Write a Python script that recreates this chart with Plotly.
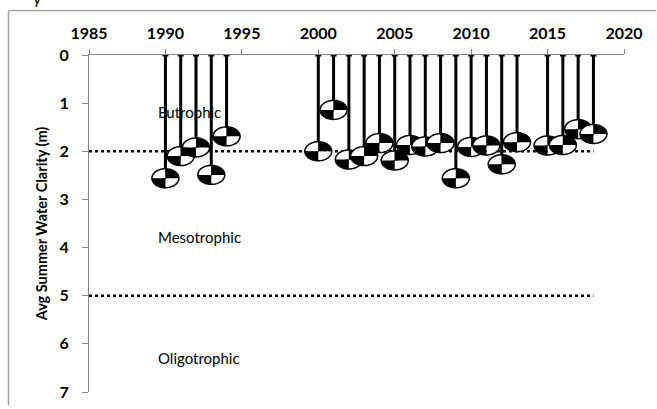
import numpy as np
import plotly.graph_objects as go

# ---- data ----
years = [1990, 1991, 1992, 1993, 1994,
         2000, 2001, 2002, 2003, 2004, 2005, 2006, 2007, 2008, 2009,
         2010, 2011, 2012, 2013,
         2015, 2016, 2017, 2018]
clarity = [2.56, 2.10, 1.92, 2.49, 1.69,
           2.00, 1.14, 2.17, 2.10, 1.83, 2.19, 1.87, 1.90, 1.83, 2.56,
           1.91, 1.88, 2.27, 1.81,
           1.88, 1.87, 1.54, 1.64]
x_ticks = [1985, 1990, 1995, 2000, 2005, 2010, 2015, 2020]
y_ticks = [0, 1, 2, 3, 4, 5, 6, 7]
thresholds = [2, 5]
threshold_x = [1985, 2018]
zone_labels = ["Eutrophic", "Mesotrophic", "Oligotrophic"]
zone_label_y = [1.18, 3.78, 6.3]

# ---- layout geometry ----
W, H = 657, 409
ML, MR, MT, MB = 89, 33, 55, 17
XR = [1985, 2020]
YR = [7, 0]
pw = W - ML - MR
ph = H - MT - MB
px_per_x = pw / (XR[1] - XR[0])
px_per_y = ph / (YR[0] - YR[1])
rx = 13.5 / px_per_x
ry = 9.5 / px_per_y

FONT = "Lato"
AXC = "#868686"

fig = go.Figure()

# threshold dotted lines
for t in thresholds:
    fig.add_trace(go.Scatter(x=threshold_x, y=[t, t], mode="lines",
                             line=dict(color="black", width=2.5, dash="3px,3px"),
                             hoverinfo="skip", showlegend=False))

# stems (error bars from the surface to the disk)
fig.add_trace(go.Scatter(
    x=years, y=clarity, mode="markers",
    marker=dict(size=2, color="rgba(0,0,0,0)"),
    error_y=dict(type="data", symmetric=False, array=[0] * len(years),
                 arrayminus=clarity, color="black", thickness=3, width=3),
    showlegend=False))

# secchi disks
def arc(cx, cy, a0, a1, n=16):
    t = np.radians(np.linspace(a0, a1, n))
    xs = cx + rx * np.cos(t)
    ys = cy + ry * np.sin(t)
    return " ".join(f"L{x:.4f},{y:.4f}" for x, y in zip(xs, ys))

shapes = []
for cx, cy in zip(years, clarity):
    white = (f"M{cx},{cy} {arc(cx, cy, 180, 270)} Z "
             f"M{cx},{cy} {arc(cx, cy, 0, 90)} Z")
    black = (f"M{cx},{cy} {arc(cx, cy, -90, 0)} Z "
             f"M{cx},{cy} {arc(cx, cy, 90, 180)} Z")
    t = np.radians(np.linspace(0, 360, 60))
    pts = [f"{cx + rx*np.cos(a):.4f},{cy + ry*np.sin(a):.4f}" for a in t]
    outline = "M" + " L".join(pts) + " Z"
    shapes.append(dict(type="path", path=white, xref="x", yref="y",
                       fillcolor="white", line=dict(width=0), layer="above"))
    shapes.append(dict(type="path", path=black, xref="x", yref="y",
                       fillcolor="black", line=dict(width=0), layer="above"))
    shapes.append(dict(type="path", path=outline, xref="x", yref="y",
                       fillcolor="rgba(0,0,0,0)", line=dict(color="black", width=1.5),
                       layer="above"))

# outer chart border: left and top edges, in paper coordinates
bx0 = (8.5 - ML) / pw
by1 = 1 + (MT - 10.5) / ph
border = dict(color="#a6a6a6", width=1.5)
shapes.append(dict(type="line", xref="paper", yref="paper",
                   x0=bx0, x1=bx0, y0=-0.04, y1=by1, line=border, layer="above"))
shapes.append(dict(type="line", xref="paper", yref="paper",
                   x0=bx0, x1=1.06, y0=by1, y1=by1, line=border, layer="above"))

annotations = []
for lab, ly in zip(zone_labels, zone_label_y):
    annotations.append(dict(x=1989.4, y=ly, xref="x", yref="y", text=lab,
                            showarrow=False, xanchor="left", yanchor="middle",
                            font=dict(family=FONT, size=15, color="black")))
# cropped title descender at the very top
annotations.append(dict(x=(37 - ML) / pw, y=1 + (MT - 9) / ph, xref="paper", yref="paper",
                        text="y", showarrow=False, xanchor="center", yanchor="bottom",
                        font=dict(family=FONT, size=16, color="black")))

fig.update_layout(
    width=W, height=H,
    margin=dict(l=ML, r=MR, t=MT, b=MB, pad=0, autoexpand=False),
    paper_bgcolor="white", plot_bgcolor="white",
    shapes=shapes, annotations=annotations,
    xaxis=dict(range=XR, side="top", tickvals=x_ticks, ticktext=[str(v) for v in x_ticks],
               showgrid=False, zeroline=False, showline=True, linecolor=AXC, linewidth=1,
               ticks="outside", ticklen=5, tickcolor=AXC, automargin=False,
               tickfont=dict(family=FONT, size=16, color="black", weight="bold"),
               ticklabelstandoff=4),
    yaxis=dict(range=YR, tickvals=y_ticks, showgrid=False, zeroline=False,
               showline=True, linecolor=AXC, linewidth=1, automargin=False,
               ticks="outside", ticklen=6, tickcolor=AXC,
               tickfont=dict(family=FONT, size=16, color="black", weight="bold"),
               ticklabelstandoff=10,
               title=dict(text="Avg Summer Water Clarity (m)", standoff=8,
                          font=dict(family=FONT, size=14.5, color="black", weight="bold"))),
    showlegend=False,
)

fig.write_html("out.html", config={"displayModeBar": False},
               post_script="document.body.style.margin='0px';document.body.style.overflow='hidden';")
